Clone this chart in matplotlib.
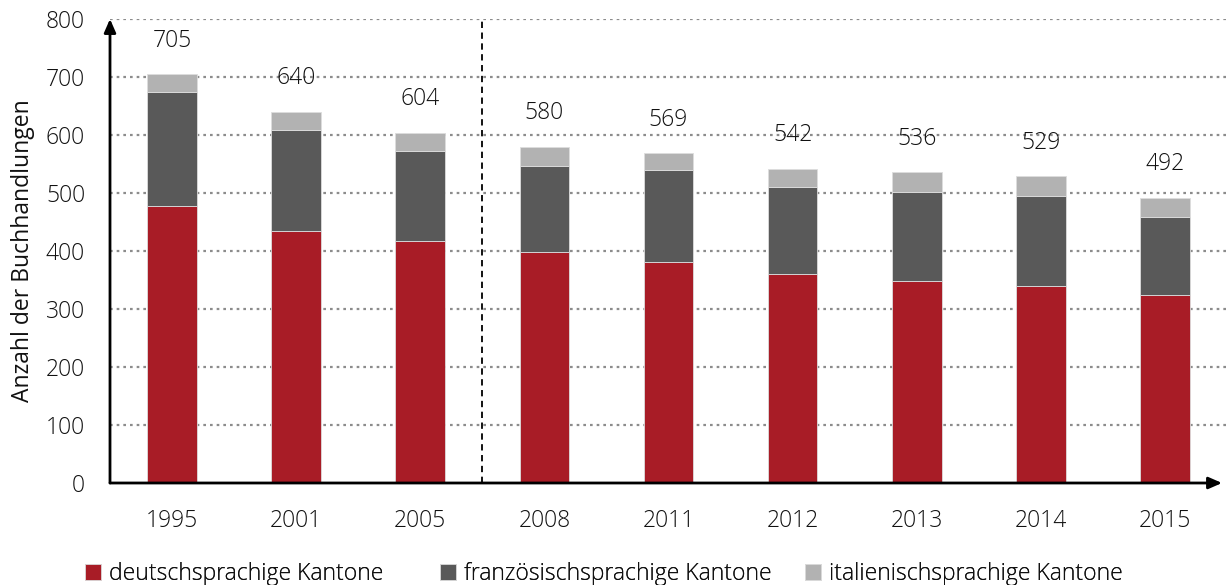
import matplotlib.pyplot as plt

years = ["1995", "2001", "2005", "2008", "2011", "2012", "2013", "2014", "2015"]
deutsch = [478, 435, 418, 399, 381, 361, 349, 340, 325]
franz = [196, 174, 155, 148, 158, 150, 153, 154, 134]
totals = [705, 640, 604, 580, 569, 542, 536, 529, 492]
italien = [t - d - f for t, d, f in zip(totals, deutsch, franz)]

series_names = ["deutschsprachige Kantone", "französischsprachige Kantone",
                "italienischsprachige Kantone"]
colors = ["#A81C26", "#595959", "#B2B2B2"]

plt.rcParams['font.family'] = ['Open Sans', 'DejaVu Sans']
plt.rcParams['font.weight'] = 'light'
fs = 16.5
tc = "#111111"

fig = plt.figure(figsize=(12.27, 5.85), dpi=100)
ax = fig.add_axes([110 / 1227, 102 / 585, 1117 / 1227, 464 / 585])

x = list(range(len(years)))
w = 0.40
edge = dict(edgecolor="#DDDDDD", linewidth=0.6)
ax.bar(x, deutsch, w, color=colors[0], label=series_names[0], zorder=3, **edge)
ax.bar(x, franz, w, bottom=deutsch, color=colors[1], label=series_names[1], zorder=3, **edge)
bottoms2 = [d + f for d, f in zip(deutsch, franz)]
ax.bar(x, italien, w, bottom=bottoms2, color=colors[2], label=series_names[2], zorder=3, **edge)

for xi, t in zip(x, totals):
    ax.annotate(str(t), (xi, t), xytext=(0, 24), textcoords="offset points",
                ha="center", va="center", fontsize=fs, color=tc)

ax.set_xlim(-0.5, 8.5)
ax.set_ylim(0, 800)
ax.set_yticks(range(0, 801, 100))
ax.set_xticks(x)
ax.set_xticklabels(years)
ax.tick_params(axis="both", length=0, labelsize=fs, colors=tc)
ax.tick_params(axis="y", pad=18)
ax.tick_params(axis="x", pad=19)

for y in range(100, 801, 100):
    ax.axhline(y, color="#8C8C8C", linestyle=(0, (1.2, 1.8)), linewidth=1.6, zorder=1)

for s in ax.spines.values():
    s.set_visible(False)

# axis arrows
ax.annotate("", xy=(8.46, 0), xytext=(-0.5, 0),
            arrowprops=dict(arrowstyle="-|>,head_length=0.8,head_width=0.35",
                            color="black", lw=2, shrinkA=0, shrinkB=0),
            annotation_clip=False, zorder=5)
ax.annotate("", xy=(-0.5, 800), xytext=(-0.5, 0),
            arrowprops=dict(arrowstyle="-|>,head_length=0.8,head_width=0.35",
                            color="black", lw=2, shrinkA=0, shrinkB=0),
            annotation_clip=False, zorder=5)

ax.axvline(2.5, color="black", linestyle=(0, (3.5, 2.5)), linewidth=1.3, zorder=4)

ax.set_ylabel("Anzahl der Buchhandlungen", fontsize=fs, color=tc, labelpad=8)

# one legend box per entry so each sits where the original has it
handles, labels = ax.get_legend_handles_labels()
leg_x = [76, 431, 796]
for h, l, lx in zip(handles, labels, leg_x):
    lg = fig.legend([h], [l], loc="lower left", bbox_to_anchor=(lx / 1227, -10 / 585),
                    frameon=False, fontsize=fs, handlelength=0.7, handleheight=0.7,
                    handletextpad=0.35, borderaxespad=0, labelcolor=tc)
    fig.add_artist(lg)

fig.savefig("out.png", dpi=100)
